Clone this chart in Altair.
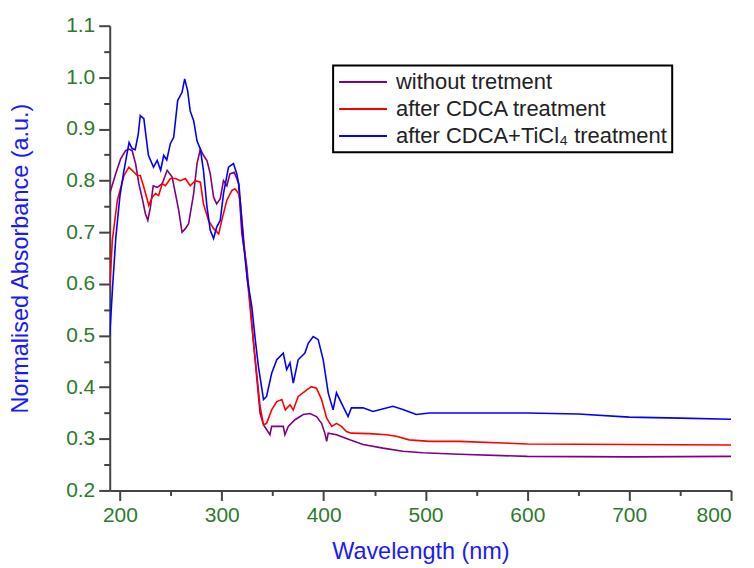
import altair as alt
import pandas as pd

SERIES = ["without tretment", "after CDCA treatment", "after CDCA+TiCl\u2084 treatment"]
COLORS = ["#800080", "#ff0000", "#0000ff"]

wl_purple = [190, 195.8, 200.7, 205.6, 209, 212, 215.4, 218.6, 222, 225, 227.4, 230, 232.7, 236.6,
             241.5, 246.4, 251.3, 254.5, 257.7, 261, 264.3, 267.5, 272.4, 275.7, 279, 282, 285.5,
             288.7, 292, 295, 298.5, 301.7, 305, 308, 312.2, 314.8, 316.5, 319.7, 324.6, 331, 337.6,
             341, 344, 347.3, 349, 355.5, 360.4, 362, 365.3, 371.9, 380, 386.6, 393, 398, 401.2,
             403, 404.5, 412.6, 425.7, 438.7, 458.3, 477.8, 497.4, 533, 600, 700, 800]
ab_purple = [0.775, 0.813, 0.842, 0.858, 0.861, 0.858, 0.833, 0.794, 0.765, 0.736, 0.723, 0.749, 0.79, 0.787,
             0.794, 0.82, 0.807, 0.775, 0.743, 0.70, 0.707, 0.717, 0.775, 0.833, 0.861, 0.849, 0.839,
             0.813, 0.768, 0.755, 0.765, 0.80, 0.79, 0.813, 0.816, 0.804, 0.794, 0.698, 0.633, 0.49, 0.35,
             0.327, 0.318, 0.308, 0.324, 0.324, 0.324, 0.308, 0.324, 0.337, 0.347, 0.349, 0.343, 0.33, 0.311,
             0.295, 0.311, 0.308, 0.298, 0.289, 0.282, 0.276, 0.273, 0.27, 0.266, 0.265, 0.266]

wl_red = [190, 192.6, 197.5, 204, 208.8, 212, 217, 220, 223.5, 228.4, 231.7, 235, 238, 241.5, 244.7,
          249.6, 254.5, 259.4, 264.3, 269, 274, 279, 282, 287, 292, 297, 300, 305, 310, 313, 316.4,
          318, 324.6, 331, 337.6, 341, 344, 349, 354, 359, 362.4, 367, 370.2, 375, 381.6, 388, 393,
          398, 403, 408, 412.6, 417.5, 422.4, 427, 445, 461.6, 471.4, 484, 504, 533, 600, 700, 800]
ab_red = [0.59, 0.685, 0.762, 0.81, 0.826, 0.82, 0.81, 0.81, 0.787, 0.752, 0.768, 0.775, 0.771, 0.794, 0.79,
          0.804, 0.804, 0.80, 0.804, 0.79, 0.80, 0.797, 0.755, 0.723, 0.707, 0.697, 0.723, 0.762, 0.781, 0.784, 0.775,
          0.762, 0.62, 0.49, 0.363, 0.327, 0.33, 0.356, 0.372, 0.376, 0.356, 0.366, 0.356, 0.382, 0.392, 0.401, 0.398,
          0.376, 0.34, 0.324, 0.33, 0.324, 0.314, 0.311, 0.31, 0.308, 0.305, 0.298, 0.295, 0.295, 0.29, 0.289, 0.288]

wl_blue = [190, 193, 196, 200, 204, 209, 212, 215, 218, 220, 223.5, 226, 228, 233, 236.6, 240, 243, 246,
           249.6, 252.8, 256.7, 261, 263.6, 266.5, 269, 272.4, 275.7, 279, 282, 285.5, 288.7, 292, 295,
           298.5, 301.7, 306.6, 311.5, 314.8, 317, 321.3, 325, 329.5, 333, 336, 341, 344, 349, 354, 360.4,
           363.7, 367, 370.2, 375, 381.6, 384.9, 389.8, 394.7, 399.6, 404.5, 409.3, 412.6, 417.5, 424,
           427.3, 438.7, 448.5, 468, 477.8, 490.9, 503.9, 533, 600, 650, 700, 750, 800]
ab_blue = [0.50, 0.60, 0.69, 0.77, 0.82, 0.874, 0.862, 0.86, 0.89, 0.926, 0.92, 0.88, 0.849, 0.826, 0.839, 0.82, 0.849, 0.84,
           0.872, 0.884, 0.955, 0.971, 0.997, 0.974, 0.935, 0.916, 0.877, 0.861, 0.82, 0.749, 0.704, 0.688, 0.71,
           0.723, 0.775, 0.826, 0.833, 0.813, 0.79, 0.68, 0.61, 0.556, 0.49, 0.44, 0.376, 0.382, 0.427, 0.453, 0.466,
           0.434, 0.447, 0.408, 0.453, 0.466, 0.485, 0.498, 0.492, 0.453, 0.389, 0.356, 0.389, 0.369, 0.343,
           0.36, 0.36, 0.353, 0.363, 0.357, 0.347, 0.35, 0.35, 0.35, 0.348, 0.342, 0.34, 0.338]

x_ticks = list(range(200, 801, 50))
y_ticks = [round(0.2 + 0.05 * i, 2) for i in range(19)]

rows = []
for order, (name, wl, ab) in enumerate(zip(SERIES, [wl_purple, wl_red, wl_blue], [ab_purple, ab_red, ab_blue])):
    for w, a in zip(wl, ab):
        rows.append({"series": name, "wavelength": w, "absorbance": a, "order": order})
df = pd.DataFrame(rows)

FONT = "Liberation Sans"
LABEL_COLOR = "#2d7a2d"
AXIS_COLOR = "#444444"

chart = alt.Chart(df).mark_line(strokeWidth=1.6, clip=True).encode(
    x=alt.X("wavelength:Q",
            scale=alt.Scale(domain=[190, 800], nice=False, zero=False),
            axis=alt.Axis(title="Wavelength (nm)", values=x_ticks,
                          labelExpr="datum.value % 100 === 0 ? datum.label : ''",
                          tickSize={"condition": {"test": "datum.value % 100 !== 0", "value": 5}, "value": 10},
                          grid=False)),
    y=alt.Y("absorbance:Q",
            scale=alt.Scale(domain=[0.2, 1.1], nice=False, zero=False),
            axis=alt.Axis(title="Normalised Absorbance (a.u.)", values=y_ticks,
                          labelExpr="round(datum.value*100) % 10 === 0 ? format(datum.value, '.1f') : ''",
                          tickSize={"condition": {"test": "round(datum.value*100) % 10 !== 0", "value": 6}, "value": 11},
                          grid=False)),
    color=alt.Color("series:N",
                    scale=alt.Scale(domain=SERIES, range=COLORS),
                    legend=alt.Legend(title=None, orient="none", legendX=224, legendY=40,
                                      symbolType="stroke", symbolSize=2304, symbolStrokeWidth=2,
                                      clipHeight=23,
                                      labelFont=FONT, labelFontSize=22, labelColor="#222222",
                                      labelLimit=500, labelOffset=8, padding=5, rowPadding=4,
                                      strokeColor="black", fillColor="white")),
    order=alt.Order("order:Q"),
    detail="series:N",
).properties(
    width=623, height=466,
    autosize=alt.AutoSizeParams(type="none"),
    padding={"left": 102, "top": 17, "right": 15, "bottom": 78},
).configure_view(
    stroke="transparent"
).configure_axis(
    domainColor=AXIS_COLOR, domainWidth=2, tickColor=AXIS_COLOR, tickWidth=2,
    labelFont=FONT, labelFontSize=21, labelColor=LABEL_COLOR, labelPadding=4,
    titleFont=FONT, titleFontSize=23.5, titleColor="#1a1aff", titleFontWeight="normal",
).configure_axisY(
    titlePadding=33
).configure_axisX(
    titlePadding=14
).configure_legend(
    strokeWidth=2
)

chart.save("out.html", embed_options={"renderer": "svg", "actions": False})
